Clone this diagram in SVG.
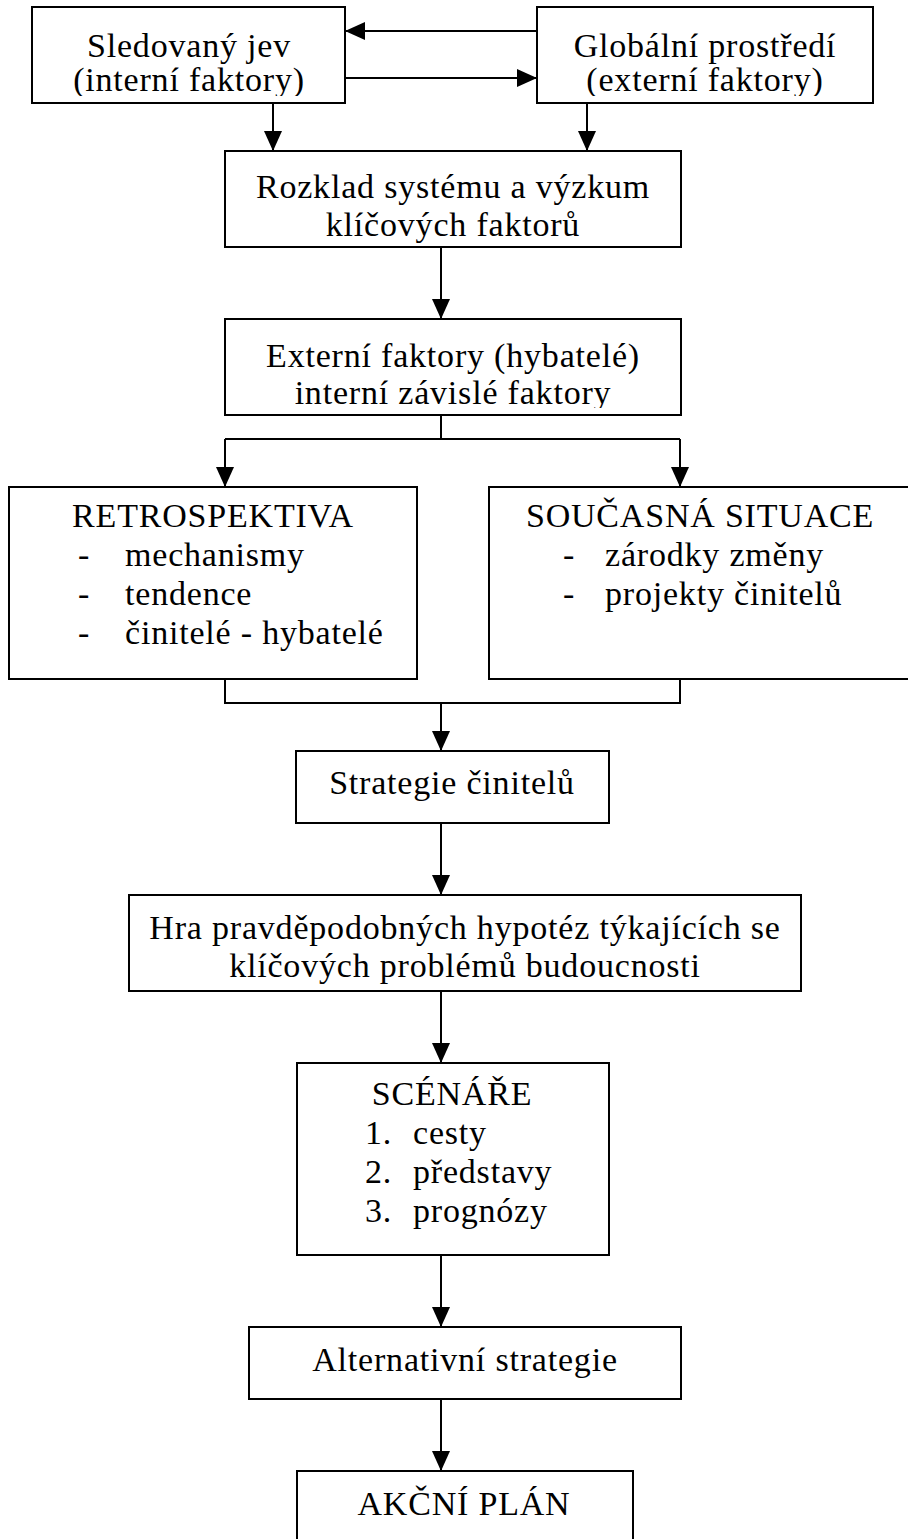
<svg xmlns="http://www.w3.org/2000/svg" width="908" height="1539" viewBox="0 0 908 1539">
<style>
.box{fill:#fff;stroke:#000;stroke-width:2}
.t{font-family:"Liberation Serif","Times New Roman",serif;font-size:34px;fill:#000;letter-spacing:0.8px}
.c{text-anchor:middle}
.ln{fill:none;stroke:#000;stroke-width:2}
</style>
<defs>
<marker id="ah" viewBox="0 0 20 20" refX="20" refY="10" markerWidth="20" markerHeight="20" markerUnits="userSpaceOnUse" orient="auto">
<path d="M0,1 L20,10 L0,19 z" fill="#000"/>
</marker>
<clipPath id="c1"><rect x="32" y="7" width="313" height="89"/></clipPath>
<clipPath id="c2"><rect x="537" y="7" width="336" height="89"/></clipPath>
<clipPath id="c4"><rect x="225" y="319" width="456" height="89"/></clipPath>
<clipPath id="c6"><rect x="129" y="895" width="672" height="89"/></clipPath>
</defs>
<rect width="908" height="1539" fill="#fff"/>

<g id="connectors">
<path class="ln" d="M537,31 H345" marker-end="url(#ah)"/>
<path class="ln" d="M345,78 H537" marker-end="url(#ah)"/>
<path class="ln" d="M273,103 V151" marker-end="url(#ah)"/>
<path class="ln" d="M587,103 V151" marker-end="url(#ah)"/>
<path class="ln" d="M441,247 V319" marker-end="url(#ah)"/>
<path class="ln" d="M441,415 V439 M225,439 H680"/>
<path class="ln" d="M225,439 V487" marker-end="url(#ah)"/>
<path class="ln" d="M680,439 V487" marker-end="url(#ah)"/>
<path class="ln" d="M225,679 V703 H680 V679"/>
<path class="ln" d="M441,703 V751" marker-end="url(#ah)"/>
<path class="ln" d="M441,823 V895" marker-end="url(#ah)"/>
<path class="ln" d="M441,991 V1063" marker-end="url(#ah)"/>
<path class="ln" d="M441,1255 V1327" marker-end="url(#ah)"/>
<path class="ln" d="M441,1399 V1471" marker-end="url(#ah)"/>
</g>

<g id="sledovany">
<rect class="box" x="32" y="7" width="313" height="96"/>
<g clip-path="url(#c1)">
<text class="t c" x="189" y="57">Sledovaný jev</text>
<text class="t c" x="189" y="91">(interní faktory)</text>
</g>
</g>

<g id="globalni">
<rect class="box" x="537" y="7" width="336" height="96"/>
<g clip-path="url(#c2)">
<text class="t c" x="705" y="57">Globální prostředí</text>
<text class="t c" x="705" y="91">(externí faktory)</text>
</g>
</g>

<g id="rozklad">
<rect class="box" x="225" y="151" width="456" height="96"/>
<text class="t c" x="453" y="198">Rozklad systému a výzkum</text>
<text class="t c" x="453" y="236">klíčových faktorů</text>
</g>

<g id="externi">
<rect class="box" x="225" y="319" width="456" height="96"/>
<g clip-path="url(#c4)">
<text class="t c" x="453" y="367">Externí faktory (hybatelé)</text>
<text class="t c" x="453" y="404">interní závislé faktory</text>
</g>
</g>

<g id="retrospektiva">
<rect class="box" x="9" y="487" width="408" height="192"/>
<text class="t c" x="213" y="527">RETROSPEKTIVA</text>
<text class="t" x="78" y="566">-</text>
<text class="t" x="125" y="566">mechanismy</text>
<text class="t" x="78" y="605">-</text>
<text class="t" x="125" y="605">tendence</text>
<text class="t" x="78" y="644">-</text>
<text class="t" x="125" y="644">činitelé - hybatelé</text>
</g>

<g id="soucasna">
<rect class="box" x="489" y="487" width="430" height="192"/>
<text class="t c" x="700" y="527">SOUČASNÁ SITUACE</text>
<text class="t" x="563" y="566">-</text>
<text class="t" x="605" y="566">zárodky změny</text>
<text class="t" x="563" y="605">-</text>
<text class="t" x="605" y="605">projekty činitelů</text>
</g>

<g id="strategie">
<rect class="box" x="296" y="751" width="313" height="72"/>
<text class="t c" x="452" y="794">Strategie činitelů</text>
</g>

<g id="hra">
<rect class="box" x="129" y="895" width="672" height="96"/>
<g clip-path="url(#c6)">
<text class="t c" x="465" y="939">Hra pravděpodobných hypotéz týkajících se</text>
<text class="t c" x="465" y="977">klíčových problémů budoucnosti</text>
</g>
</g>

<g id="scenare">
<rect class="box" x="297" y="1063" width="312" height="192"/>
<text class="t c" x="452" y="1105">SCÉNÁŘE</text>
<text class="t" x="365" y="1144">1.</text>
<text class="t" x="413" y="1144">cesty</text>
<text class="t" x="365" y="1183">2.</text>
<text class="t" x="413" y="1183">představy</text>
<text class="t" x="365" y="1222">3.</text>
<text class="t" x="413" y="1222">prognózy</text>
</g>

<g id="alternativni">
<rect class="box" x="249" y="1327" width="432" height="72"/>
<text class="t c" x="465" y="1371">Alternativní strategie</text>
</g>

<g id="akcni">
<rect class="box" x="297" y="1471" width="336" height="90"/>
<text class="t c" x="464" y="1515">AKČNÍ PLÁN</text>
</g>
</svg>
